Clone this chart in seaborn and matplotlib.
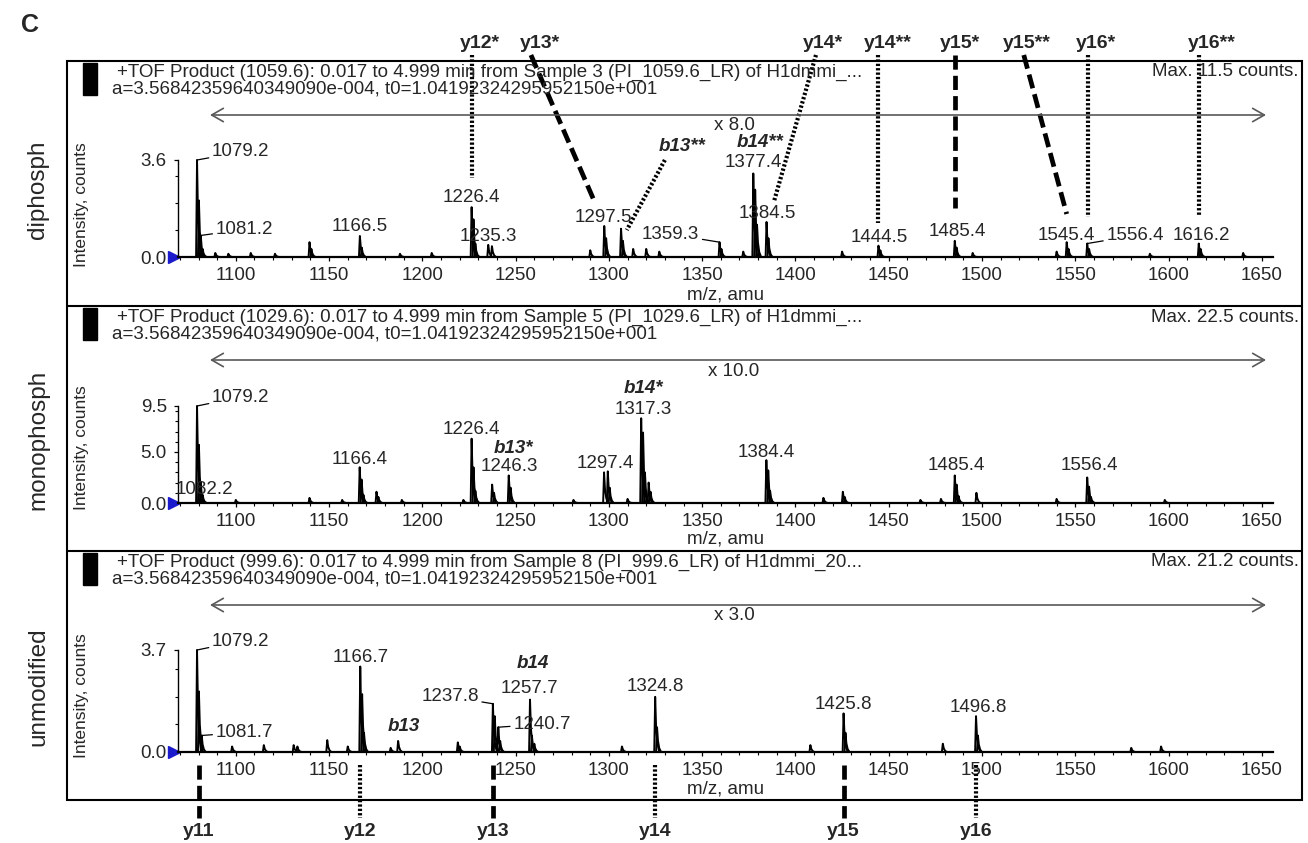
import matplotlib
matplotlib.use("Agg")
import matplotlib.pyplot as plt
import matplotlib.transforms as mtransforms
from matplotlib.patches import Rectangle
from matplotlib.ticker import FixedLocator, MultipleLocator, FormatStrFormatter
import pandas as pd
import seaborn as sns

W, H = 1308, 843

# ---- spectra: peak lists (m/z, intensity) ----
diphosph_mz = [1079.2, 1080.2, 1081.2, 1082.2, 1089.0, 1096.0, 1108.0, 1121.0,
               1139.5, 1140.5, 1166.5, 1167.5, 1188.0, 1205.0, 1226.4, 1227.4,
               1228.4, 1235.3, 1237.3, 1290.0, 1297.5, 1298.5, 1306.5, 1307.5,
               1313.0, 1320.0, 1327.0, 1359.3, 1360.3, 1372.0, 1377.4, 1378.4,
               1379.4, 1384.5, 1385.5, 1425.0, 1444.5, 1445.5, 1485.4, 1486.4,
               1495.0, 1540.0, 1545.4, 1546.4, 1556.4, 1557.4, 1590.0, 1616.2,
               1617.2, 1640.0]
diphosph_int = [3.6, 2.1, 0.8, 0.3, 0.15, 0.12, 0.15, 0.12,
                0.55, 0.3, 0.78, 0.35, 0.12, 0.15, 1.85, 1.4,
                0.5, 0.45, 0.4, 0.25, 1.15, 0.7, 1.05, 0.6,
                0.3, 0.3, 0.2, 0.55, 0.3, 0.2, 3.1, 2.5,
                1.2, 1.3, 0.7, 0.2, 0.42, 0.25, 0.6, 0.35,
                0.15, 0.2, 0.55, 0.3, 0.5, 0.3, 0.12, 0.5,
                0.3, 0.15]

monophosph_mz = [1079.2, 1080.2, 1081.2, 1082.2, 1100.0, 1139.5, 1157.0, 1166.4,
                 1167.4, 1168.4, 1175.4, 1176.4, 1189.0, 1222.0, 1226.4, 1227.4,
                 1228.4, 1237.4, 1238.4, 1246.3, 1247.3, 1281.0, 1297.4, 1299.4,
                 1300.4, 1310.0, 1317.3, 1318.3, 1319.3, 1321.3, 1322.3, 1384.4,
                 1385.4, 1386.4, 1415.0, 1425.4, 1426.4, 1467.0, 1478.0, 1485.4,
                 1486.4, 1487.4, 1497.0, 1540.0, 1556.4, 1557.4, 1558.4, 1598.0]
monophosph_int = [9.5, 5.7, 2.0, 0.8, 0.3, 0.5, 0.3, 3.5,
                  2.3, 0.8, 1.1, 0.6, 0.3, 0.3, 6.3, 3.5,
                  1.2, 1.8, 1.0, 2.7, 1.5, 0.3, 3.0, 3.1,
                  1.5, 0.4, 8.3, 6.9, 3.0, 2.0, 1.1, 4.2,
                  3.2, 1.2, 0.5, 1.1, 0.6, 0.3, 0.4, 2.7,
                  1.8, 0.7, 1.0, 0.4, 2.5, 1.6, 0.6, 0.3]

unmodified_mz = [1079.2, 1080.2, 1081.7, 1098.0, 1115.0, 1131.0, 1133.0, 1149.0,
                 1160.0, 1166.7, 1167.7, 1168.7, 1183.0, 1187.0, 1219.0, 1220.0,
                 1237.8, 1238.8, 1240.7, 1241.7, 1257.7, 1258.7, 1260.0, 1307.0,
                 1324.8, 1325.8, 1408.0, 1425.8, 1426.8, 1479.0, 1496.8, 1497.8,
                 1580.0, 1596.0]
unmodified_int = [3.7, 2.2, 0.6, 0.2, 0.25, 0.25, 0.2, 0.43,
                  0.2, 3.1, 2.1, 0.7, 0.15, 0.4, 0.35, 0.2,
                  1.75, 1.3, 0.9, 0.4, 1.9, 0.6, 0.3, 0.2,
                  2.0, 0.9, 0.25, 1.4, 0.7, 0.3, 1.3, 0.6,
                  0.15, 0.2]

# ---- annotated peaks: (m/z, dx px, dy px, ha, leader line) ----
diphosph_labels = [(1079.2, 15, 8, "left", True), (1081.2, 15, 6, "left", True),
                   (1166.5, 0, 9, "center", False), (1226.4, 0, 10, "center", False),
                   (1235.3, 0, 8, "center", False), (1297.5, -1, 9, "center", False),
                   (1359.3, -49, 8, "center", True), (1377.4, 0, 11, "center", False),
                   (1384.5, 1, 8, "center", False), (1444.5, 1, 8, "center", False),
                   (1485.4, 3, 9, "center", False), (1545.4, 0, 7, "center", False),
                   (1556.4, 48, 8, "center", True), (1616.2, 3, 8, "center", False)]
monophosph_labels = [(1079.2, 15, 9, "left", True), (1082.2, 2, 5, "center", False),
                     (1166.4, 0, 8, "center", False), (1226.4, 0, 9, "center", False),
                     (1246.3, 1, 9, "center", False), (1297.4, 1, 9, "center", False),
                     (1317.3, 2, 9, "center", False), (1384.4, 0, 8, "center", False),
                     (1485.4, 2, 10, "center", False), (1556.4, 2, 12, "center", False)]
unmodified_labels = [(1079.2, 15, 9, "left", True), (1081.7, 14, 3, "left", True),
                     (1166.7, 0, 9, "center", False), (1237.8, -43, 7, "center", True),
                     (1240.7, 15, 3, "left", True), (1257.7, -1, 11, "center", False),
                     (1324.8, 0, 10, "center", False), (1425.8, 0, 9, "center", False),
                     (1496.8, 2, 9, "center", False)]

# b ions: (anchor m/z, text, dx px, dy px)
diphosph_b = [(1306.5, "b13**", 61, 82), (1377.4, "b14**", 7, 31)]
monophosph_b = [(1246.3, "b13*", 5, 27), (1317.3, "b14*", 2, 30)]
unmodified_b = [(1187.0, "b13", 6, 14), (1257.7, "b14", 3, 36)]

# y ions above / below the stack
top_frag_text = ["y12*", "y13*", "y14*", "y14**", "y15*", "y15**", "y16*", "y16**"]
top_frag_text_mz = [1230.9, 1263.0, 1414.7, 1449.5, 1488.0, 1524.0, 1561.0, 1623.0]
top_frag_line_top_mz = [1226.4, 1258.2, 1411.0, 1444.5, 1485.4, 1522.4, 1557.0, 1616.2]
top_frag_line_bot_mz = [1226.4, 1291.9, 1388.4, 1444.5, 1485.4, 1545.4, 1557.0, 1616.2]
top_frag_line_bot_px = [178, 200, 202, 223, 208, 214, 217, 215]
top_frag_style = ["dot", "dash", "dot", "dot", "dash", "dash", "dot", "dot"]

bot_frag_text = ["y11", "y12", "y13", "y14", "y15", "y16"]
bot_frag_mz = [1080.0, 1166.7, 1237.8, 1324.8, 1425.8, 1496.8]
bot_frag_style = ["dash", "dot", "dash", "dot", "dash", "dot"]

panel_names = ["diphosph", "monophosph", "unmodified"]
headers = ["+TOF Product (1059.6): 0.017 to 4.999 min from Sample 3 (PI_1059.6_LR) of H1dmmi_...",
           "+TOF Product (1029.6): 0.017 to 4.999 min from Sample 5 (PI_1029.6_LR) of H1dmmi_...",
           "+TOF Product (999.6): 0.017 to 4.999 min from Sample 8 (PI_999.6_LR) of H1dmmi_20..."]
calib = "a=3.56842359640349090e-004, t0=1.04192324295952150e+001"
max_counts = ["Max. 11.5 counts.", "Max. 22.5 counts.", "Max. 21.2 counts."]
zoom_factor = ["x 8.0", "x 10.0", "x 3.0"]
y_top = [3.6, 9.5, 3.7]
y_major = [[0, 3.6], [0, 5.0, 9.5], [0, 3.7]]
y_minor = [[1, 2, 3], [1, 2, 3, 4, 6, 7, 8, 9], [1, 2, 3]]
x_ticks = list(range(1100, 1651, 50))
x_lim = (1069, 1656)

# peak glyph (shape of one centroid drawn as a tailing profile)
PEAK_DX = [-0.5, 0.0, 0.5, 1.2, 2.2]
PEAK_F = [0.0, 1.0, 0.45, 0.15, 0.0]

STYLES = {"dot": dict(lw=3.0, dashes=(0.55, 0.5)),
          "dash": dict(lw=3.4, dashes=(3.0, 1.3))}
FS = 13.5


def peak_frame(mz, inten):
    rows = []
    for i, (m, y) in enumerate(zip(mz, inten)):
        for dx, f in zip(PEAK_DX, PEAK_F):
            rows.append((i, m + dx, y * f))
    return pd.DataFrame(rows, columns=["peak", "mz", "intensity"])


def main():
    sns.set_style("ticks")
    plt.rcParams["font.family"] = ["Liberation Sans", "DejaVu Sans"]

    fig = plt.figure(figsize=(W / 100, H / 100), dpi=100)

    # axes boxes in pixels: (left, top, right, bottom)
    boxes = [(178, 160, 1273, 257), (178, 406, 1273, 503), (178, 650, 1273, 752)]
    panel_top = [61, 306, 551]
    spectra = [(diphosph_mz, diphosph_int), (monophosph_mz, monophosph_int),
               (unmodified_mz, unmodified_int)]
    labels = [diphosph_labels, monophosph_labels, unmodified_labels]
    bions = [diphosph_b, monophosph_b, unmodified_b]
    xlabel_px = [296, 540, 789]
    ylabel_px = [205, 448, 696]

    axes = []
    for k in range(3):
        l, t, r, b = boxes[k]
        ax = fig.add_axes([l / W, 1 - b / H, (r - l) / W, (b - t) / H])
        mz, inten = spectra[k]
        df = peak_frame(mz, inten)
        sns.lineplot(data=df, x="mz", y="intensity", units="peak", estimator=None,
                     sort=False, color="black", lw=1.4, ax=ax, legend=False)
        for ln in ax.lines:
            ln.set_clip_on(False)
        ax.set_xlim(*x_lim)
        ax.set_ylim(0, y_top[k])
        sns.despine(ax=ax)
        ax.spines["left"].set_linewidth(1.0)
        ax.spines["bottom"].set_linewidth(1.6)
        for s in ("left", "bottom"):
            ax.spines[s].set_color("black")
        ax.set_xticks(x_ticks)
        ax.xaxis.set_minor_locator(MultipleLocator(10))
        ax.yaxis.set_major_locator(FixedLocator(y_major[k]))
        ax.yaxis.set_minor_locator(FixedLocator(y_minor[k]))
        ax.yaxis.set_major_formatter(FormatStrFormatter("%.1f"))
        ax.tick_params(axis="both", which="major", direction="out", length=3,
                       width=0.9, labelsize=FS, color="black")
        ax.tick_params(axis="both", which="minor", direction="out", length=2,
                       width=0.8, color="black")
        ax.tick_params(axis="x", which="major", pad=4)
        ax.tick_params(axis="y", which="major", pad=5)
        ax.set_xlabel("m/z, amu", fontsize=FS)
        ax.xaxis.set_label_coords(0.5, (b - (xlabel_px[k] - 9)) / (b - t))
        ax.set_ylabel("Intensity, counts", fontsize=12.5)
        ax.yaxis.set_label_coords((89 - l) / (r - l), (b - ylabel_px[k]) / (b - t))
        ax.patch.set_alpha(0)

        # blue start marker at the origin
        off = mtransforms.ScaledTranslation(-4 / 100, 0, fig.dpi_scale_trans)
        ax.plot([0], [0], marker=">", ms=8, color="#1a1acc", clip_on=False,
                transform=ax.transAxes + off)

        height = dict(zip(mz, inten))
        for m, dx, dy, ha, leader in labels[k]:
            props = None
            if leader:
                props = dict(arrowstyle="-", lw=0.9, color="black", shrinkA=0, shrinkB=0)
            ax.annotate(f"{m:.1f}", xy=(m, height[m]), xytext=(dx, dy),
                        textcoords="offset pixels", ha=ha, va="center",
                        fontsize=FS, arrowprops=props, annotation_clip=False)
        for m, txt, dx, dy in bions[k]:
            ax.annotate(txt, xy=(m, height[m]), xytext=(dx, dy),
                        textcoords="offset pixels", ha="center", va="center",
                        fontsize=FS, fontweight="bold", fontstyle="italic",
                        annotation_clip=False)
        axes.append(ax)

    # overlay in pixel coordinates for the frame, headers and fragment lines
    over = fig.add_axes([0, 0, 1, 1], zorder=5)
    over.set_autoscale_on(False)
    over.set_xlim(0, W)
    over.set_ylim(H, 0)
    over.axis("off")

    over.add_patch(Rectangle((67, 61), 1235, 739, fill=False, lw=1.5, ec="black"))
    for yy in panel_top[1:]:
        over.plot([67, 1302], [yy, yy], color="black", lw=1.5)

    over.text(30, 25, "C", fontsize=18, fontweight="bold", ha="center", va="center")

    for k in range(3):
        t0 = panel_top[k]
        over.add_patch(Rectangle((83, t0 + 2), 14, 32, color="black"))
        over.text(117, t0 + 11, headers[k], fontsize=FS, ha="left", va="center")
        over.text(112, t0 + 28, calib, fontsize=FS, ha="left", va="center")
        over.text(1299, t0 + 11, max_counts[k], fontsize=FS, ha="right", va="center")
        ya = [115, 360, 605][k]
        over.annotate("", xy=(1266, ya), xytext=(210, ya),
                      arrowprops=dict(arrowstyle="<->,head_length=0.7,head_width=0.4",
                                      color="0.35", lw=1.2, mutation_scale=12,
                                      shrinkA=0, shrinkB=0))
        over.text(734, ya + 11, zoom_factor[k], fontsize=FS, ha="center", va="center")
        over.text(38, [190, 440, 687][k], panel_names[k], fontsize=17.5,
                  rotation=90, ha="center", va="center")

    # fragment ion markers
    blend1 = mtransforms.blended_transform_factory(axes[0].transData, over.transData)
    for txt, tx, mt, mb, yb, st in zip(top_frag_text, top_frag_text_mz,
                                       top_frag_line_top_mz, top_frag_line_bot_mz,
                                       top_frag_line_bot_px, top_frag_style):
        over.text(tx, 43, txt, transform=blend1, fontsize=14, fontweight="bold",
                  ha="center", va="center")
        over.plot([mt, mb], [55, yb], transform=blend1, color="black",
                  solid_capstyle="butt", **STYLES[st])
    # b13** connector
    over.plot([1330, 1309.6], [160, 230], transform=blend1, color="black", **STYLES["dot"])

    blend3 = mtransforms.blended_transform_factory(axes[2].transData, over.transData)
    for txt, m, st in zip(bot_frag_text, bot_frag_mz, bot_frag_style):
        over.plot([m, m], [765, 818], transform=blend3, color="black", **STYLES[st])
        over.text(m, 832, txt, transform=blend3, fontsize=14, fontweight="bold",
                  ha="center", va="center")

    fig.savefig("out.png", dpi=100, facecolor="white")
    plt.close(fig)


if __name__ == "__main__":
    main()
